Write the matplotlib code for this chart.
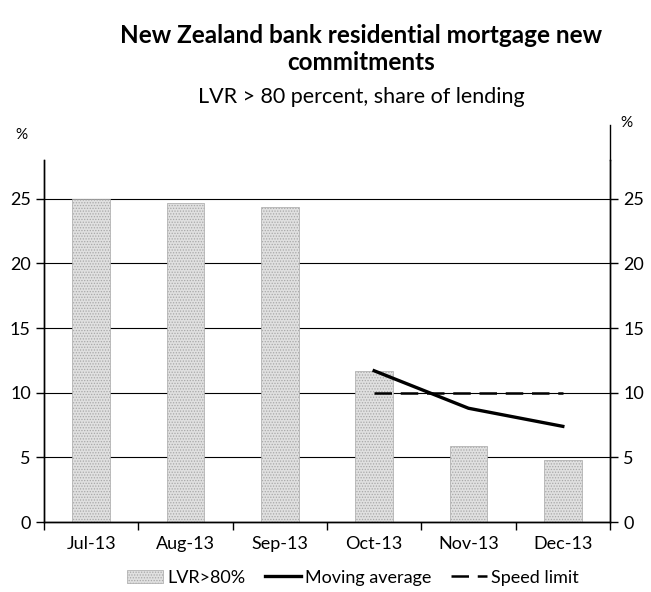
import numpy as np
import matplotlib.pyplot as plt
from matplotlib.patches import Patch
from matplotlib.lines import Line2D

plt.rcParams['font.family'] = ['Lato', 'DejaVu Sans']
plt.rcParams['hatch.color'] = '#9a9a9a'
plt.rcParams['hatch.linewidth'] = 0.6

months = ['Jul-13', 'Aug-13', 'Sep-13', 'Oct-13', 'Nov-13', 'Dec-13']
lvr = [25.0, 24.7, 24.4, 11.7, 5.9, 4.8]
ma_months = ['Oct-13', 'Nov-13', 'Dec-13']
moving_avg = [11.7, 8.8, 7.4]
speed_limit = [10, 10, 10]

fig = plt.figure(figsize=(6.51, 5.92), dpi=100)
ax = fig.add_axes([0.0676, 0.1182, 0.8694, 0.6115])

x = np.arange(len(months))
ma_x = [months.index(m) for m in ma_months]

ax.bar(x, lvr, width=0.4, color='#e0e0e0', hatch='......', edgecolor='#a8a8a8',
       linewidth=0.5, zorder=2)
ax.plot(ma_x, moving_avg, color='black', lw=2.4, zorder=3)
ax.plot(ma_x, speed_limit, color='black', lw=1.8, dashes=(7, 3.5), zorder=3)

ax.set_xlim(-0.5, 5.5)
ax.set_ylim(0, 28)
ax.set_yticks([0, 5, 10, 15, 20, 25])
ax.yaxis.grid(True, color='black', lw=0.8)
ax.set_axisbelow(True)
ax.set_xticks(x)
ax.set_xticklabels(months)
ax.set_xticks(np.arange(-0.5, 6, 1), minor=True)
ax.tick_params(axis='x', which='major', length=0, labelsize=13, pad=10)
ax.tick_params(axis='x', which='minor', length=6, direction='out', width=1)
ax.tick_params(axis='y', labelsize=13, length=6, width=1, direction='out')

ax2 = ax.twinx()
ax2.set_ylim(0, 28)
ax2.set_yticks([0, 5, 10, 15, 20, 25])
ax2.tick_params(axis='y', labelsize=13, length=6, width=1, direction='out')

for a in (ax, ax2):
    a.spines['top'].set_visible(False)
    a.spines['left'].set_linewidth(1)
    a.spines['right'].set_linewidth(1)
    a.spines['bottom'].set_linewidth(1)

# right axis line runs a bit higher than the left one
ax2.plot([1, 1], [1, 1.097], transform=ax2.transAxes, color='black', lw=1,
         clip_on=False)

fig.text(0.555, 0.94, 'New Zealand bank residential mortgage new', ha='center',
         va='center', fontsize=17.5, fontweight='bold')
fig.text(0.555, 0.895, 'commitments', ha='center', va='center', fontsize=17.5,
         fontweight='bold')
fig.text(0.555, 0.836, 'LVR > 80 percent, share of lending', ha='center',
         va='center', fontsize=15.5)
fig.text(0.033, 0.772, '%', ha='center', va='center', fontsize=11)
fig.text(0.962, 0.793, '%', ha='center', va='center', fontsize=11)

handles = [Patch(facecolor='#e0e0e0', hatch='......', edgecolor='#a8a8a8', lw=0.5),
           Line2D([], [], color='black', lw=2.4),
           Line2D([], [], color='black', lw=1.8, dashes=(7, 3.5))]
fig.legend(handles, ['LVR>80%', 'Moving average', 'Speed limit'],
           loc='center', bbox_to_anchor=(0.542, 0.024), ncol=3, frameon=False,
           fontsize=13, handlelength=2.0, handletextpad=0.2, columnspacing=1.1)

fig.savefig('out.png', dpi=100)
